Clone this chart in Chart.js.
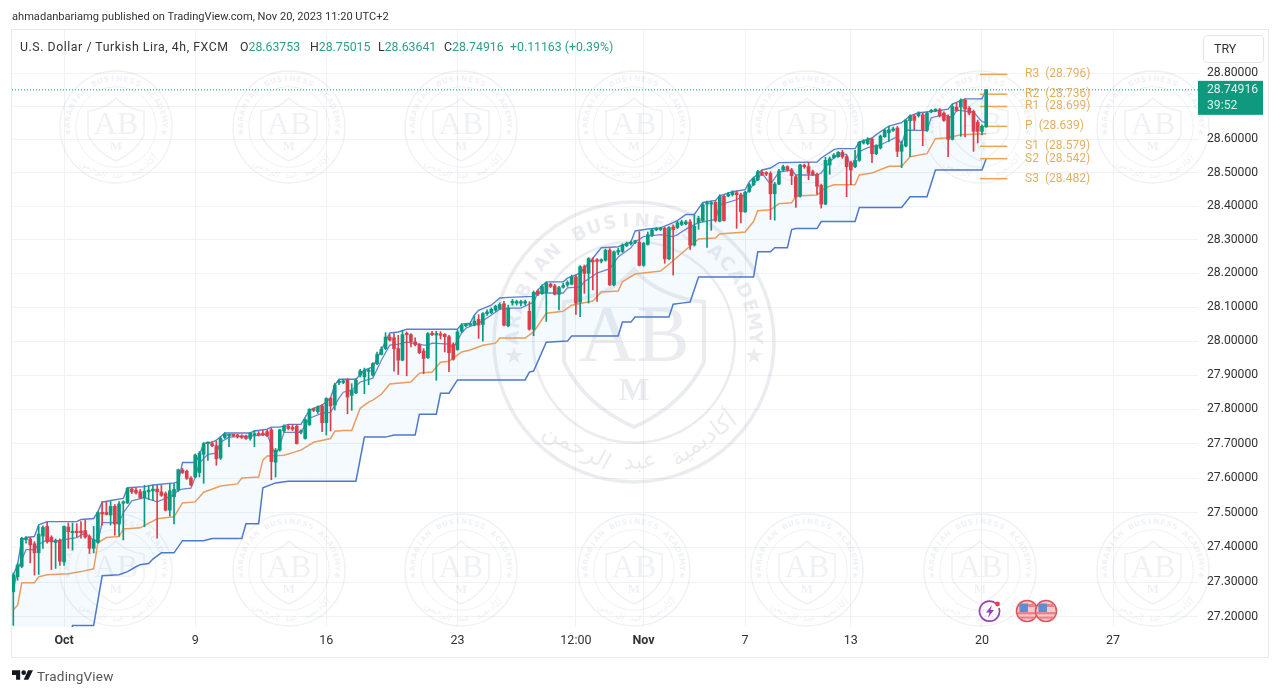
<!DOCTYPE html>
<html>
<head>
<meta charset="utf-8">
<title>USDTRY 4h</title>
<script src="https://cdn.jsdelivr.net/npm/chart.js@4/dist/chart.umd.min.js"></script>
<style>
  html, body { margin: 0; padding: 0; background: #fff; }
  #wrap { position: relative; width: 1280px; height: 695px; overflow: hidden; font-family: Roboto, sans-serif; color: #333; }
  canvas { position: absolute; left: 0; top: 0; }
  .txt { position: absolute; white-space: pre; font-size: 12.3px; line-height: 16px; }
  .up { color: #2f9e88; }
  #tryBox { position: absolute; left: 1203px; top: 35px; width: 59px; height: 26px; border: 1px solid #e4e6ec; border-radius: 4px; font-size: 12.5px; line-height: 26px; text-indent: 10px; }
  svg { position: absolute; }
</style>
</head>
<body>
<div id="wrap">
  <canvas id="chart" width="1280" height="695"></canvas>
  <div class="txt" style="left:12px;top:9px;font-size:11.1px">ahmadanbariamg published on TradingView.com, Nov 20, 2023 11:20 UTC+2</div>
  <div class="txt" style="left:20px;top:39px;letter-spacing:.55px">U.S. Dollar / Turkish Lira, 4h, FXCM</div>
  <div class="txt" style="left:240px;top:39px">O<span class="up">28.63753</span></div>
  <div class="txt" style="left:310px;top:39px">H<span class="up">28.75015</span></div>
  <div class="txt" style="left:378px;top:39px">L<span class="up">28.63641</span></div>
  <div class="txt" style="left:444px;top:39px">C<span class="up">28.74916</span></div>
  <div class="txt up" style="left:510px;top:39px">+0.11163 (+0.39%)</div>
  <div id="tryBox">TRY</div>

  <svg style="left:978px;top:599px" width="24" height="24" viewBox="0 0 24 24">
    <path d="M18.5 5 A10 10 0 1 0 21 9" fill="none" stroke="#9c3fb5" stroke-width="1.7"/>
    <path d="M14 6 L8 13.5 H11.5 L10 18.5 L16 11 H12.5 Z" fill="#9c3fb5"/>
    <circle cx="19.5" cy="5" r="2.4" fill="#e0434f"/>
  </svg>
  <svg style="left:1015px;top:599px" width="44" height="24" viewBox="0 0 44 24">
    <g id="flag">
      <circle cx="12" cy="12" r="10.5" fill="#f6c9cc" stroke="#e0565f" stroke-width="1.6"/>
      <rect x="4" y="5" width="16" height="3" fill="#e8858c"/>
      <rect x="3" y="13" width="18" height="2.4" fill="#e8858c"/>
      <rect x="5" y="17.5" width="14" height="2.2" fill="#e8858c"/>
      <rect x="4.5" y="4.5" width="8.5" height="8.5" fill="#5d8fd0"/>
    </g>
    <use href="#flag" x="19"/>
  </svg>

  <svg style="left:12px;top:669px" width="21" height="12" viewBox="0 5 36 18">
    <path d="M14 6H0v8h7v8h7V6Z" fill="#131722"/>
    <circle cx="20" cy="10" r="4" fill="#131722"/>
    <path d="M28 22h-8l7.5-16H36l-8 16Z" fill="#131722"/>
  </svg>
  <div class="txt" style="left:37px;top:668px;font-size:13.5px;color:#555;letter-spacing:.2px">TradingView</div>
</div>

<script>
const opens = [
  27.272,27.315,27.345,27.422,27.424,27.410,27.384,27.432,27.460,27.429,
  27.414,27.420,27.358,27.458,27.442,27.446,27.447,27.448,27.431,27.397,
  27.414,27.501,27.501,27.493,27.518,27.467,27.527,27.528,27.568,27.565,
  27.560,27.543,27.560,27.563,27.568,27.560,27.555,27.507,27.546,
  27.565,27.623,27.620,27.600,27.603,27.616,27.669,27.700,27.700,27.694,
  27.658,27.718,27.723,27.725,27.724,27.723,27.722,27.715,27.725,27.728,
  27.729,27.735,27.740,27.646,27.681,27.737,27.751,27.748,27.751,27.733,
  27.715,27.755,27.800,27.793,27.810,27.761,27.832,27.812,
  27.878,27.879,27.887,27.841,27.848,27.900,27.895,27.911,27.900,27.934,
  27.961,27.978,28.011,28.010,27.978,27.944,28.022,28.019,27.998,27.990,
  27.971,27.951,28.022,28.018,28.020,28.020,28.013,27.991,27.975,28.029,
  28.045,28.047,28.047,28.064,28.049,28.081,28.084,28.091,28.096,28.110,
  28.045,28.113,28.112,28.112,28.112,28.088,28.035,28.148,28.141,28.144,
  28.168,28.163,28.138,28.159,28.166,28.168,28.190,28.115,28.220,28.200,
  28.239,28.239,28.236,28.239,28.269,28.166,28.263,28.265,28.282,28.288,
  28.292,28.292,28.224,28.286,28.313,28.329,28.330,28.334,28.243,28.338,
  28.336,28.345,28.347,28.353,28.284,28.350,28.357,28.406,28.406,28.411,
  28.355,28.429,28.430,28.434,28.440,28.434,28.383,28.444,28.464,28.479,
  28.501,28.498,28.498,28.437,28.466,28.508,28.518,28.508,28.488,28.430,
  28.521,28.518,28.503,28.495,28.462,28.406,28.523,28.545,28.548,
  28.561,28.548,28.530,28.518,28.537,28.589,28.587,28.601,28.557,28.574,
  28.608,28.620,28.627,28.634,28.564,28.580,28.656,28.670,28.671,28.674,
  28.627,28.683,28.686,28.689,28.679,28.669,28.600,28.697,28.697,28.718,
  28.694,28.684,28.651,28.624,28.63753
]
const highs = [
  27.326,27.354,27.429,27.431,27.429,27.416,27.462,27.462,27.472,27.433,
  27.424,27.424,27.462,27.470,27.470,27.468,27.474,27.479,27.436,27.460,
  27.503,27.532,27.532,27.532,27.523,27.532,27.534,27.572,27.572,27.572,
  27.567,27.579,27.576,27.579,27.579,27.579,27.560,27.584,27.584,
  27.626,27.628,27.623,27.604,27.670,27.677,27.703,27.705,27.705,27.707,
  27.720,27.732,27.728,27.727,27.727,27.726,27.725,27.733,27.738,27.735,
  27.738,27.740,27.745,27.686,27.742,27.755,27.756,27.755,27.755,27.740,
  27.773,27.802,27.804,27.810,27.814,27.834,27.835,27.876,
  27.887,27.888,27.890,27.875,27.890,27.917,27.921,27.919,27.937,27.968,
  27.983,28.025,28.019,28.022,28.017,28.032,28.027,28.022,28.010,27.993,
  27.978,28.025,28.029,28.029,28.028,28.022,28.017,27.995,28.032,28.051,
  28.052,28.053,28.074,28.078,28.084,28.092,28.098,28.106,28.113,28.117,
  28.106,28.123,28.121,28.120,28.121,28.116,28.148,28.151,28.166,28.174,
  28.171,28.168,28.162,28.171,28.178,28.195,28.195,28.223,28.225,28.247,
  28.246,28.244,28.243,28.272,28.274,28.267,28.275,28.288,28.293,28.296,
  28.298,28.324,28.292,28.323,28.334,28.336,28.337,28.337,28.339,28.344,
  28.355,28.358,28.358,28.360,28.375,28.370,28.409,28.415,28.415,28.416,
  28.434,28.432,28.441,28.446,28.445,28.439,28.445,28.468,28.487,28.507,
  28.508,28.503,28.503,28.471,28.510,28.523,28.521,28.513,28.493,28.525,
  28.526,28.531,28.508,28.499,28.466,28.546,28.547,28.557,28.563,
  28.567,28.552,28.535,28.567,28.594,28.599,28.605,28.603,28.584,28.613,
  28.631,28.639,28.637,28.639,28.595,28.659,28.674,28.675,28.683,28.679,
  28.683,28.690,28.692,28.693,28.683,28.674,28.706,28.710,28.722,28.722,
  28.699,28.688,28.658,28.644,28.75015
]
const lows = [
  27.176,27.305,27.341,27.412,27.355,27.320,27.322,27.397,27.412,27.336,
  27.339,27.348,27.348,27.397,27.392,27.430,27.426,27.426,27.382,27.384,
  27.412,27.464,27.493,27.464,27.435,27.432,27.421,27.526,27.555,27.553,
  27.540,27.459,27.538,27.536,27.426,27.547,27.505,27.490,27.467,
  27.561,27.613,27.596,27.577,27.601,27.603,27.585,27.651,27.691,27.637,
  27.654,27.715,27.691,27.720,27.716,27.715,27.712,27.710,27.691,27.722,
  27.723,27.720,27.595,27.603,27.678,27.733,27.740,27.738,27.699,27.728,
  27.713,27.753,27.793,27.788,27.735,27.725,27.737,27.798,
  27.872,27.875,27.787,27.797,27.846,27.895,27.846,27.872,27.897,27.931,
  27.959,27.975,28.000,27.912,27.902,27.942,27.898,27.983,27.986,27.963,
  27.904,27.949,28.016,27.885,28.006,27.968,27.910,27.944,27.973,28.025,
  28.042,28.045,28.045,28.008,28.000,28.076,28.081,28.088,28.093,28.045,
  28.042,28.106,28.106,28.104,28.106,28.032,28.016,28.134,28.138,28.058,
  28.158,28.136,28.092,28.156,28.161,28.166,28.079,28.072,28.141,28.112,
  28.151,28.117,28.231,28.236,28.164,28.163,28.255,28.262,28.279,28.284,
  28.288,28.222,28.221,28.284,28.310,28.327,28.327,28.230,28.240,28.195,
  28.333,28.342,28.344,28.271,28.281,28.331,28.353,28.277,28.328,28.353,
  28.353,28.355,28.428,28.430,28.334,28.350,28.381,28.441,28.461,28.476,
  28.491,28.491,28.360,28.358,28.464,28.505,28.505,28.464,28.396,28.427,
  28.513,28.479,28.491,28.435,28.394,28.404,28.495,28.543,28.546,
  28.543,28.428,28.464,28.515,28.534,28.586,28.584,28.530,28.554,28.571,
  28.606,28.594,28.624,28.548,28.515,28.577,28.548,28.629,28.667,28.581,
  28.624,28.680,28.683,28.667,28.654,28.548,28.598,28.684,28.609,28.607,
  28.674,28.564,28.589,28.613,28.63641
]
const closes = [
  27.321,27.349,27.426,27.426,27.407,27.384,27.438,27.457,27.416,27.417,
  27.419,27.360,27.460,27.445,27.445,27.442,27.442,27.429,27.397,27.422,
  27.500,27.496,27.495,27.518,27.467,27.525,27.530,27.570,27.560,27.557,
  27.543,27.562,27.565,27.568,27.560,27.550,27.507,27.563,27.567,
  27.624,27.616,27.599,27.580,27.667,27.672,27.700,27.703,27.694,27.656,
  27.715,27.728,27.725,27.723,27.721,27.718,27.715,27.730,27.728,27.725,
  27.726,27.723,27.648,27.681,27.740,27.751,27.744,27.742,27.700,27.736,
  27.770,27.800,27.797,27.807,27.761,27.832,27.810,27.871,
  27.882,27.882,27.836,27.856,27.885,27.912,27.915,27.914,27.934,27.961,
  27.976,28.012,28.003,27.978,27.944,28.019,28.019,27.998,27.990,27.966,
  27.949,28.022,28.019,28.020,28.017,28.013,27.966,27.947,28.027,28.047,
  28.047,28.049,28.059,28.047,28.081,28.086,28.094,28.103,28.108,28.047,
  28.098,28.116,28.114,28.114,28.114,28.035,28.144,28.138,28.161,28.171,
  28.161,28.138,28.158,28.164,28.173,28.190,28.112,28.220,28.200,28.244,
  28.234,28.236,28.240,28.269,28.166,28.264,28.268,28.284,28.289,28.292,
  28.295,28.224,28.289,28.315,28.329,28.332,28.332,28.243,28.336,28.330,
  28.350,28.353,28.353,28.284,28.340,28.363,28.404,28.409,28.409,28.357,
  28.429,28.357,28.435,28.441,28.434,28.383,28.441,28.464,28.483,28.503,
  28.495,28.496,28.437,28.466,28.505,28.518,28.508,28.491,28.427,28.523,
  28.518,28.498,28.495,28.459,28.406,28.537,28.542,28.553,28.561,
  28.548,28.518,28.508,28.537,28.591,28.594,28.601,28.557,28.581,28.610,
  28.627,28.629,28.629,28.564,28.584,28.658,28.670,28.657,28.679,28.627,
  28.679,28.686,28.688,28.671,28.657,28.600,28.699,28.687,28.718,28.691,
  28.679,28.624,28.624,28.639,28.74916
]

// indicator lines: [bar index, price]
const upperBand = [[0,27.321],[1,27.350],[2,27.422],[3,27.428],[5,27.431],[6,27.465],[8,27.474],[15,27.474],[16,27.480],[19,27.483],[20,27.503],[21,27.530],[23,27.535],[26,27.541],[27,27.572],[31,27.575],[33,27.580],[38,27.586],[39,27.589],[40,27.645],[43,27.645],[44,27.667],[45,27.701],[47,27.704],[48,27.710],[50,27.731],[56,27.731],[57,27.737],[60,27.742],[61,27.748],[63,27.748],[65,27.756],[68,27.756],[70,27.797],[71,27.803],[73,27.812],[75,27.833],[76,27.871],[77,27.888],[81,27.888],[83,27.915],[85,27.924],[87,27.974],[89,28.024],[91,28.027],[93,28.035],[105,28.035],[106,28.050],[108,28.053],[109,28.077],[110,28.091],[113,28.106],[115,28.127],[117,28.129],[123,28.132],[124,28.151],[126,28.175],[130,28.175],[131,28.186],[134,28.201],[137,28.245],[139,28.276],[143,28.279],[146,28.293],[147,28.326],[150,28.332],[153,28.335],[156,28.351],[157,28.357],[159,28.375],[161,28.375],[163,28.411],[166,28.417],[167,28.431],[170,28.443],[173,28.449],[174,28.473],[177,28.508],[179,28.514],[181,28.530],[190,28.532],[191,28.544],[194,28.569],[195,28.572],[199,28.572],[200,28.592],[203,28.604],[204,28.614],[207,28.640],[210,28.650],[212,28.671],[214,28.680],[218,28.685],[221,28.691],[222,28.706],[225,28.722],[229,28.722],[230,28.750]]
const midBand = [[0,27.277],[1,27.335],[3,27.393],[5,27.393],[6,27.408],[8,27.422],[9,27.416],[12,27.422],[15,27.428],[17,27.442],[18,27.428],[20,27.416],[21,27.471],[25,27.471],[26,27.499],[28,27.534],[31,27.543],[34,27.531],[38,27.551],[39,27.565],[40,27.568],[42,27.571],[43,27.602],[44,27.644],[46,27.669],[48,27.672],[49,27.704],[51,27.719],[56,27.722],[60,27.727],[62,27.666],[63,27.695],[64,27.733],[68,27.733],[70,27.774],[73,27.789],[75,27.791],[77,27.833],[78,27.850],[80,27.856],[82,27.880],[85,27.891],[87,27.944],[89,27.988],[91,27.991],[93,27.997],[97,27.988],[98,27.988],[99,27.994],[103,27.991],[104,27.980],[106,28.024],[107,28.038],[110,28.053],[112,28.068],[115,28.094],[118,28.097],[120,28.097],[123,28.115],[124,28.142],[130,28.142],[131,28.157],[134,28.160],[135,28.175],[138,28.201],[141,28.214],[143,28.249],[146,28.276],[147,28.293],[149,28.309],[153,28.315],[156,28.309],[157,28.315],[160,28.339],[162,28.351],[166,28.360],[167,28.404],[171,28.419],[173,28.434],[175,28.465],[177,28.499],[179,28.465],[181,28.502],[184,28.508],[185,28.493],[190,28.493],[191,28.499],[193,28.533],[195,28.555],[197,28.555],[198,28.515],[200,28.563],[202,28.575],[205,28.583],[209,28.608],[210,28.583],[211,28.628],[216,28.626],[217,28.665],[220,28.674],[222,28.665],[223,28.688],[227,28.682],[229,28.653],[230,28.650]]
const orangeLine = [[0,27.221],[1,27.233],[2,27.298],[5,27.298],[6,27.315],[8,27.321],[13,27.324],[16,27.330],[19,27.338],[20,27.413],[22,27.428],[25,27.431],[26,27.453],[30,27.456],[34,27.482],[38,27.488],[40,27.528],[43,27.531],[45,27.559],[49,27.577],[53,27.583],[54,27.600],[58,27.603],[59,27.652],[60,27.664],[64,27.666],[68,27.681],[71,27.704],[75,27.715],[76,27.736],[78,27.738],[80,27.738],[82,27.803],[84,27.821],[85,27.827],[87,27.844],[89,27.874],[94,27.880],[96,27.906],[99,27.909],[101,27.938],[103,27.941],[106,27.968],[108,27.974],[111,27.988],[114,27.994],[115,28.009],[121,28.009],[123,28.027],[126,28.082],[130,28.088],[132,28.106],[137,28.118],[139,28.145],[143,28.148],[144,28.175],[147,28.198],[153,28.207],[155,28.227],[159,28.270],[162,28.302],[166,28.305],[167,28.317],[173,28.323],[175,28.354],[176,28.386],[179,28.389],[181,28.407],[184,28.410],[185,28.430],[190,28.433],[192,28.455],[194,28.464],[199,28.464],[200,28.493],[203,28.499],[207,28.519],[210,28.519],[212,28.548],[216,28.557],[218,28.602],[221,28.605],[224,28.614],[230,28.617]]
const lowerBand = [[0,27.12],[13,27.12],[14,27.176],[19,27.176],[21,27.318],[25,27.321],[27,27.330],[29,27.344],[30,27.350],[32,27.353],[33,27.366],[35,27.384],[38,27.384],[40,27.419],[45,27.419],[47,27.425],[54,27.425],[55,27.468],[58,27.468],[59,27.572],[62,27.586],[65,27.591],[81,27.591],[83,27.719],[88,27.719],[90,27.725],[95,27.725],[96,27.786],[100,27.786],[101,27.847],[103,27.847],[105,27.886],[121,27.886],[122,27.909],[123,27.912],[126,27.997],[131,28.000],[132,28.015],[143,28.015],[144,28.056],[146,28.056],[147,28.071],[155,28.071],[156,28.109],[158,28.112],[160,28.115],[162,28.189],[175,28.189],[176,28.264],[179,28.264],[180,28.276],[183,28.276],[184,28.330],[185,28.333],[190,28.333],[191,28.354],[199,28.354],[200,28.396],[210,28.396],[212,28.428],[216,28.428],[218,28.508],[229,28.508],[230,28.542]]

const pivotNames = ["R3", "R2", "R1", "P", "S1", "S2", "S3"]
const pivotValues = [28.796, 28.736, 28.699, 28.639, 28.579, 28.542, 28.482]

const tickIndex = [12, 43, 74, 105, 133, 149, 173, 198, 229, 260]
const tickLabels = ["Oct", "9", "16", "23", "12:00", "Nov", "7", "13", "20", "27"]
const priceTicks = [27.2, 27.3, 27.4, 27.5, 27.6, 27.7, 27.8, 27.9, 28.0, 28.1, 28.2, 28.3, 28.4, 28.5, 28.6, 28.7, 28.8]

const GREEN = "#0a9a80"
const RED = "#dc3f4b"
const lastClose = closes[closes.length - 1]
const xMin = -0.31
const xMax = 280.07
const toPoints = rows => rows.map(r => ({ x: r[0], y: r[1] }))
const candleColor = ctx => closes[ctx.dataIndex] >= opens[ctx.dataIndex] ? GREEN : RED

function lineSet(points, color, width, order, extra) {
  return Object.assign({
    type: "line",
    data: points,
    borderColor: color,
    borderWidth: width,
    pointRadius: 0,
    tension: 0,
    fill: false,
    order: order
  }, extra || {})
}

// faint academy watermark behind the chart
function drawBadge(ctx, cx, cy, r, alpha) {
  const s = r / 56
  const col = "rgba(150,160,178," + alpha + ")"
  ctx.save()
  ctx.translate(cx, cy)
  ctx.strokeStyle = col
  ctx.fillStyle = col
  ctx.lineWidth = 1.4 * s
  ctx.beginPath(); ctx.arc(0, 0, r, 0, Math.PI * 2); ctx.stroke()
  ctx.lineWidth = 1 * s
  ctx.beginPath(); ctx.arc(0, 0, r * 0.72, 0, Math.PI * 2); ctx.stroke()
  // shield
  ctx.lineWidth = 1.6 * s
  ctx.beginPath()
  ctx.moveTo(-28 * s, -16 * s)
  ctx.quadraticCurveTo(-10 * s, -18 * s, 0, -29 * s)
  ctx.quadraticCurveTo(10 * s, -18 * s, 28 * s, -16 * s)
  ctx.lineTo(28 * s, 8 * s)
  ctx.quadraticCurveTo(20 * s, 25 * s, 0, 34 * s)
  ctx.quadraticCurveTo(-20 * s, 25 * s, -28 * s, 8 * s)
  ctx.closePath()
  ctx.stroke()
  ctx.textAlign = "center"
  ctx.textBaseline = "middle"
  ctx.font = (32 * s) + "px 'Liberation Serif'"
  ctx.fillText("AB", 0, -1 * s)
  ctx.font = "bold " + (13 * s) + "px 'Liberation Serif'"
  ctx.fillText("M", 0, 20 * s)
  // stars
  ctx.font = (9 * s) + "px 'DejaVu Sans'"
  ctx.fillText("★", -48 * s, 6 * s)
  ctx.fillText("★", 48 * s, 6 * s)
  // arc text on top
  const top = "ARABIAN BUSINESS ACADEMY"
  ctx.font = "bold " + (7.4 * s) + "px 'DejaVu Sans'"
  const span = Math.PI * 1.02
  for (let i = 0; i < top.length; i++) {
    const a = -Math.PI / 2 - span / 2 + span * (i + 0.5) / top.length
    ctx.save()
    ctx.rotate(a + Math.PI / 2)
    ctx.fillText(top[i], 0, -r * 0.86)
    ctx.restore()
  }
  // arabic words on the lower arc
  const words = ["أكاديمية", "عبد", "الرحمن"]
  const angles = [0.62, 0.05, -0.5]
  ctx.font = (9.5 * s) + "px 'DejaVu Sans'"
  words.forEach((w, i) => {
    ctx.save()
    ctx.rotate(-angles[i])
    ctx.fillText(w, 0, r * 0.86)
    ctx.restore()
  })
  ctx.restore()
}

const watermarkPlugin = {
  id: "watermark",
  beforeDraw(chart) {
    const c = chart.ctx
    c.save()
    c.strokeStyle = "#e9eaee"
    c.lineWidth = 1
    c.strokeRect(11.5, 29.5, 1257, 628)
    c.restore()
  },
  beforeDatasetsDraw(chart) {
    const c = chart.ctx
    const cols = [116, 289, 461, 634, 807, 980, 1153]
    cols.forEach(x => {
      drawBadge(c, x, 127, 56, 0.15)
      drawBadge(c, x, 570, 56, 0.15)
    })
    drawBadge(c, 634, 342, 140, 0.2)
  }
}

// pivot captions and the last price tag
const overlayPlugin = {
  id: "overlay",
  afterDraw(chart) {
    const c = chart.ctx
    const xs = chart.scales.x
    const ys = chart.scales.y
    c.save()
    c.font = "12px Roboto"
    c.fillStyle = "#e2b063"
    c.textAlign = "left"
    c.textBaseline = "middle"
    pivotNames.forEach((name, i) => {
      c.fillText(name + "  (" + pivotValues[i].toFixed(3) + ")", xs.getPixelForValue(239.2), ys.getPixelForValue(pivotValues[i]))
    })
    const py = ys.getPixelForValue(lastClose)
    c.fillStyle = "#0f9a7f"
    c.fillRect(1198, py - 9, 65, 34)
    c.fillStyle = "#d8f2ea"
    c.font = "12.2px Roboto"
    c.fillText(lastClose.toFixed(5), 1207, py)
    c.fillText("39:52", 1207, py + 16)
    c.restore()
  }
}

const datasets = [
  {
    label: "Bodies",
    data: opens.map((o, i) => ({ x: i, y: [Math.min(o, closes[i]), Math.max(o, closes[i])] })),
    backgroundColor: candleColor,
    barThickness: 3,
    minBarLength: 1.5,
    grouped: false,
    order: 0
  },
  {
    label: "Wicks",
    data: highs.map((h, i) => ({ x: i, y: [lows[i], h] })),
    backgroundColor: candleColor,
    barThickness: 1,
    grouped: false,
    order: 1
  },
  lineSet(toPoints(midBand), "#6c86d8", 1.3, 3),
  lineSet(toPoints(orangeLine), "#ec9c5e", 1.5, 3),
  lineSet(toPoints(lowerBand), "#4d79c9", 1.5, 3),
  lineSet(toPoints(upperBand), "#5a7fcf", 1.4, 9, {
    fill: { target: 4, above: "rgba(33,150,243,0.05)", below: "rgba(33,150,243,0.05)" }
  }),
  lineSet([{ x: xMin, y: lastClose }, { x: xMax, y: lastClose }], GREEN, 1, 2, { borderDash: [1, 2] })
]

pivotValues.forEach(v => {
  datasets.push(lineSet([{ x: 228.5, y: v }, { x: 235, y: v }], "#e9a552", 1.5, 2))
})

new Chart(document.getElementById("chart").getContext("2d"), {
  type: "bar",
  data: { datasets: datasets },
  plugins: [watermarkPlugin, overlayPlugin],
  options: {
    responsive: false,
    animation: false,
    events: [],
    layout: { padding: { left: 12, right: 12, top: 30, bottom: 38 } },
    plugins: { legend: { display: false }, tooltip: { enabled: false } },
    scales: {
      x: {
        type: "linear",
        min: xMin,
        max: xMax,
        offset: false,
        afterBuildTicks: axis => { axis.ticks = tickIndex.map(v => ({ value: v })) },
        afterFit: axis => { axis.height = 30 },
        grid: { color: "#f0f2f5", drawTicks: false, offset: false },
        border: { display: false },
        ticks: {
          autoSkip: false,
          maxRotation: 0,
          padding: 6,
          color: "#333",
          font: ctx => ({
            family: "Roboto",
            size: 12.5,
            weight: ctx.tick && ["Oct", "Nov"].includes(tickLabels[tickIndex.indexOf(ctx.tick.value)]) ? "bold" : "normal"
          }),
          callback: v => tickLabels[tickIndex.indexOf(v)]
        }
      },
      y: {
        type: "logarithmic",
        position: "right",
        min: 27.1714,
        max: 28.9305,
        afterBuildTicks: axis => { axis.ticks = priceTicks.map(v => ({ value: v })) },
        afterFit: axis => { axis.width = 70 },
        grid: { color: "#f0f2f5", drawTicks: false },
        border: { display: false },
        ticks: {
          autoSkip: false,
          padding: 9,
          color: "#333",
          font: { family: "Roboto", size: 12.2 },
          callback: v => Number(v).toFixed(5)
        }
      }
    }
  }
})
</script>
</body>
</html>
